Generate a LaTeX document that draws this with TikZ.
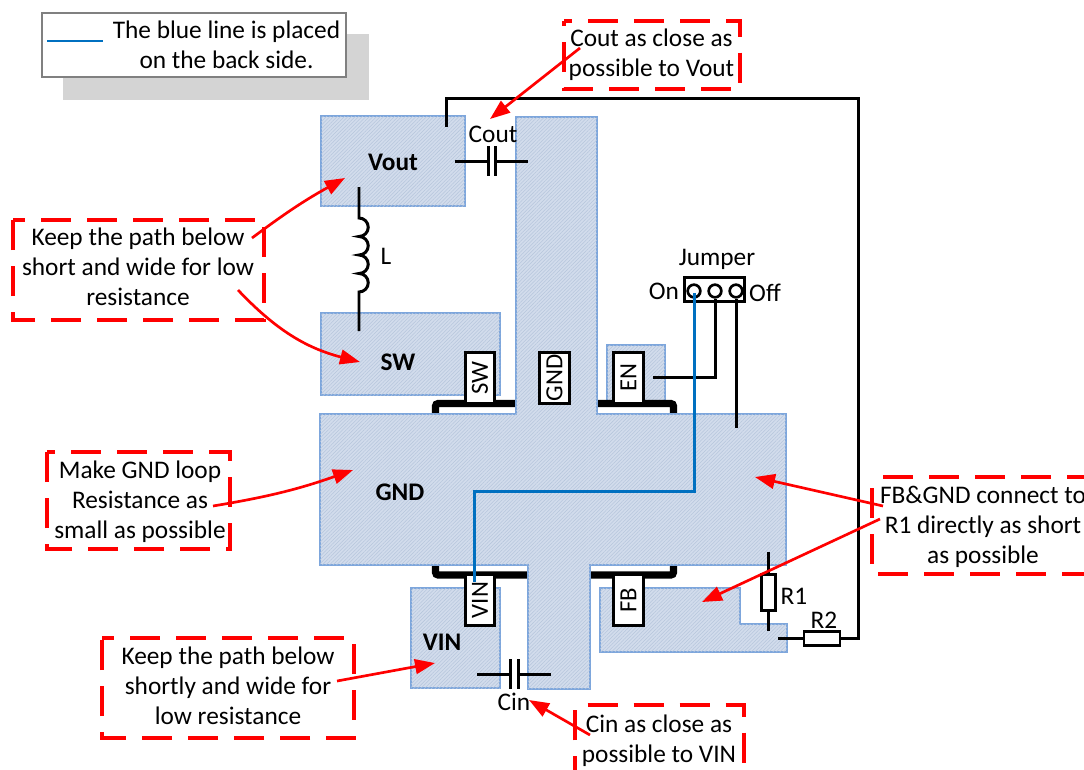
\documentclass[tikz,border=0pt]{standalone}
\usepackage{fontspec}
\setmainfont{Carlito}
\usetikzlibrary{patterns.meta,arrows.meta,calc}
\definecolor{cu}{HTML}{D2DCEC}
\definecolor{cuh}{HTML}{B6C6DC}
\definecolor{cuedge}{HTML}{7DA6DC}
\definecolor{bl}{HTML}{0070C0}
\tikzset{
 x=0.75pt,y=-0.75pt,
 copper/.style={draw=cuedge,line width=0.9pt,fill=cu,postaction={pattern={Lines[angle=45,distance=1.9pt,line width=0.4pt]},pattern color=cuh}},
 pinbox/.style={draw=black,fill=white,line width=2.2pt,inner sep=0pt,rotate=90,minimum width=38pt,minimum height=22pt,font=\fontsize{18.5}{20}\selectfont},
 wire/.style={draw=black,line width=2.24pt},
 bluewire/.style={draw=bl,line width=2.24pt},
 thick trace/.style={draw=black,line width=5.4pt,rounded corners=2pt},
 notebox/.style={draw=red,line width=3pt,dash pattern=on 22.5pt off 12pt},
 notetext/.style={inner sep=0pt,align=center,font=\fontsize{19}{22.5}\selectfont},
 callout/.style={draw=red,line width=2pt,-{Triangle[length=15pt,width=11pt]}},
 lbl/.style={inner sep=0pt,font=\fontsize{19}{22.5}\selectfont},
 blbl/.style={inner sep=0pt,font=\fontsize{19}{22.5}\selectfont\bfseries},
 comp/.style={draw=black,fill=white,line width=2.1pt,inner sep=0pt},
 jpin/.style={circle,draw=black,line width=2pt,inner sep=0pt,minimum size=9.5pt},
}
\begin{document}
\begin{tikzpicture}
\useasboundingbox (0,0) rectangle (1084,769);
% legend
\fill[black!17] (63,34) rectangle (369,100);
\node[draw=black!50,fill=white,line width=2.1pt,minimum width=228pt,minimum height=48pt,inner sep=0pt] (legend) at (194,45) {};
\coordinate (lgA) at (47,41); \coordinate (lgB) at (103,41);
\draw[draw=bl,line width=1.8pt] (lgA) -- (lgB);
\node[notetext] (legendtext) at (226.5,45) {The blue line is placed\\on the back side.};
% copper
\path[copper] (321,116) rectangle (465,206);
\path[copper] (321,313) rectangle (500,395);
\path[copper] (607,345) rectangle (665,403);
\path[copper] (411,588) rectangle (500,688);
\path[copper] (600,588) -- (740,588) -- (740,624) -- (787,624) -- (787,652) -- (600,652) -- cycle;
% thick traces
\coordinate (t1a) at (520,403.5); \coordinate (t1b) at (435.5,403.5); \coordinate (t1c) at (435.5,416);
\coordinate (t2a) at (593,403.5); \coordinate (t2b) at (673.5,403.5); \coordinate (t2c) at (673.5,416);
\coordinate (t3a) at (532,575); \coordinate (t3b) at (435.5,575); \coordinate (t3c) at (435.5,563);
\coordinate (t4a) at (586,575); \coordinate (t4b) at (673.5,575); \coordinate (t4c) at (673.5,563);
\draw[thick trace] (t1a) -- (t1b) -- (t1c);
\draw[thick trace] (t2a) -- (t2b) -- (t2c);
\draw[thick trace] (t3a) -- (t3b) -- (t3c);
\draw[thick trace] (t4a) -- (t4b) -- (t4c);
\path[copper] (516,117) -- (597,117) -- (597,414) -- (786,414) -- (786,565) -- (590,565) -- (590,689) -- (528,689) -- (528,565) -- (320,565) -- (320,414) -- (516,414) -- cycle;
% pins
\node[pinbox] (pSW) at (480,378) {SW};
\node[pinbox] (pGND) at (554.5,378) {GND};
\node[pinbox] (pEN) at (628.5,378) {EN};
\node[pinbox] (pVIN) at (480,600) {VIN};
\node[pinbox] (pFB) at (628.5,600) {FB};
% labels
\node[blbl] (vout) at (393,162) {Vout};
\node[blbl] (sw) at (398,362) {SW};
\node[blbl] (gnd) at (400,492) {GND};
\node[blbl] (vin) at (442,642) {VIN};
% jumper
\node[draw=black,fill=white,line width=2.1pt,minimum width=45pt,minimum height=18.5pt,inner sep=0pt] (jump) at (714.5,289.5) {};
\node[jpin] (j1) at (694,291) {};
\node[jpin] (j2) at (715,291) {};
\node[jpin] (j3) at (736,291) {};
\node[lbl] (jl) at (717,259) {Jumper};
\node[lbl] (on) at (664,291) {On};
\node[lbl] (off) at (765,293) {Off};
% wires
\coordinate (en) at (653,377); \coordinate (enk) at (715,377);
\draw[wire] (en) -- (enk) -- (j2.south);
\coordinate (offe) at (736,428);
\draw[wire] (j3.south) -- (offe);
\coordinate (bk0) at (694,293); \coordinate (bk1) at (694,491); \coordinate (bk2) at (474,491); \coordinate (bk3) at (474,582);
\draw[bluewire] (bk0) -- (bk1) -- (bk2) -- (bk3);
% Cout
\coordinate (co1) at (455,161); \coordinate (co2) at (488,161); \coordinate (co3) at (495,161); \coordinate (co4) at (528,161);
\draw[wire] (co1) -- (co2); \draw[wire] (co3) -- (co4);
\draw[wire] (488,146) -- (488,176); \draw[wire] (495,146) -- (495,176);
\node[lbl] (cout) at (493,134) {Cout};
% Cin
\coordinate (ci1) at (477,674); \coordinate (ci2) at (510,674); \coordinate (ci3) at (518,674); \coordinate (ci4) at (551,674);
\draw[wire] (ci1) -- (ci2); \draw[wire] (ci3) -- (ci4);
\draw[wire] (510,659) -- (510,689); \draw[wire] (518,659) -- (518,689);
\node[lbl] (cin) at (514,702) {Cin};
% inductor
\coordinate (l1) at (359,187); \coordinate (l2) at (359,331);
\draw[wire] (l1) -- (359,218)
  arc[start angle=-90,end angle=90,radius=9.25] arc[start angle=-90,end angle=90,radius=9.25]
  arc[start angle=-90,end angle=90,radius=9.25] arc[start angle=-90,end angle=90,radius=9.25] -- (l2);
\node[lbl] (lL) at (386,256) {L};
% R1, R2, feedback wire
\coordinate (r1a) at (768,552); \coordinate (r1b) at (768,631);
\draw[wire] (r1a) -- (r1b);
\node[comp,minimum width=11pt,minimum height=27.5pt] (R1) at (768.5,592.5) {};
\node[lbl] (r1l) at (794,596) {R1};
\coordinate (r2a) at (778,638); \coordinate (w1) at (858,638); \coordinate (w2) at (858,98); \coordinate (w3) at (446,98); \coordinate (w4) at (446,127);
\draw[wire] (r2a) -- (w1) -- (w2) -- (w3) -- (w4);
\node[comp,minimum width=27pt,minimum height=11pt] (R2) at (822,638.5) {};
\node[lbl] (r2l) at (824,620) {R2};
% notes
\draw[notebox,dash phase=16.5pt] (564,20.5) -- (740,20.5) -- (740,89) -- (564,89) -- cycle;
\node[notetext] (n1) at (651.5,55) {Cout as close as\\possible to Vout};
\draw[notebox,dash phase=13.5pt] (13,220) -- (264,220) -- (264,320) -- (13,320) -- cycle;
\node[notetext] (n2) at (138,267) {Keep the path below\\short and wide for low\\resistance};
\draw[notebox,dash phase=16.5pt] (47,452) -- (230,452) -- (230,549) -- (47,549) -- cycle;
\node[notetext] (n3) at (140,502) {Make GND loop\\Resistance as\\small as possible};
\draw[notebox,dash phase=13.5pt] (102,638) -- (354,638) -- (354,738) -- (102,738) -- cycle;
\node[notetext] (n4) at (228,686) {Keep the path below\\shortly and wide for\\low resistance};
\draw[notebox,dash phase=25pt] (575,705) -- (744,705) -- (744,790) -- (575,790) -- cycle;
\node[notetext] (n5) at (659,741) {Cin as close as\\possible to VIN};
\draw[notebox,dash phase=26pt] (872,477) -- (1100,477) -- (1100,574) -- (872,574) -- cycle;
\node[notetext] (n6) at (983,527) {FB\&GND connect to\\R1 directly as short\\as possible};
% callouts
\coordinate (a1s) at (580,48); \coordinate (a1e) at (490,119);
\draw[callout] (a1s) -- (a1e);
\coordinate (a2s) at (252,238); \coordinate (a2e) at (345,178);
\draw[callout] (a2s) to[bend left=4] (a2e);
\coordinate (a3s) at (238,290); \coordinate (a3e) at (360,362);
\draw[callout] (a3s) to[bend right=16] (a3e);
\coordinate (a4s) at (213,506); \coordinate (a4e) at (353,470);
\draw[callout] (a4s) to[bend right=5] (a4e);
\coordinate (a5s) at (337,681); \coordinate (a5e) at (435,663);
\draw[callout] (a5s) -- (a5e);
\coordinate (a6s) at (590,735); \coordinate (a6e) at (529,700);
\draw[callout] (a6s) -- (a6e);
\coordinate (a7s) at (883,506); \coordinate (a7e) at (755,477);
\draw[callout] (a7s) -- (a7e);
\coordinate (a8s) at (880,519); \coordinate (a8e) at (702,602);
\draw[callout] (a8s) -- (a8e);
\end{tikzpicture}
\end{document}
